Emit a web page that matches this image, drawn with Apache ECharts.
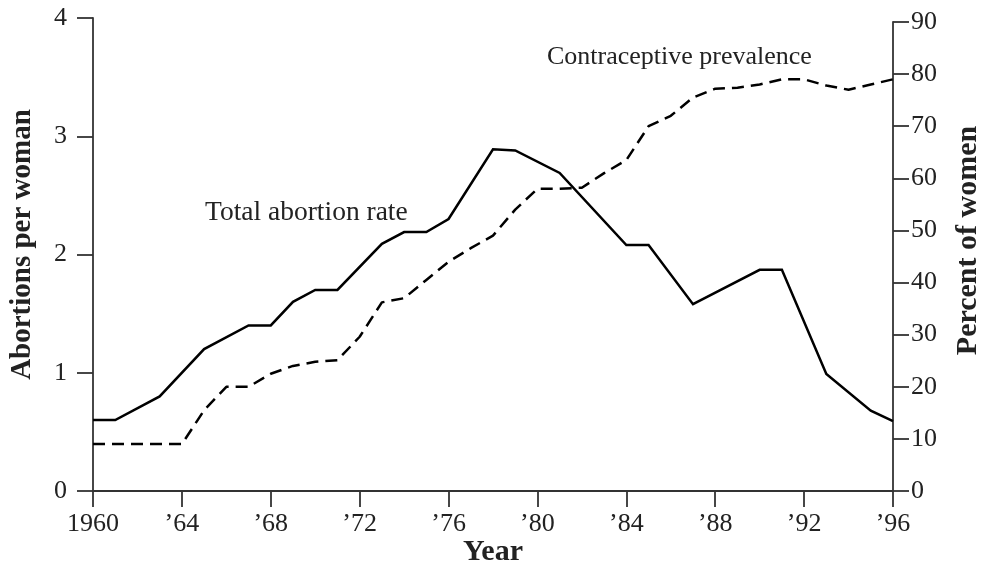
<!DOCTYPE html>
<html>
<head>
<meta charset="utf-8">
<script src="https://cdn.jsdelivr.net/npm/echarts@6/dist/echarts.min.js"></script>
<style>html,body{margin:0;padding:0;background:#fff}#c{width:988px;height:571px}</style>
</head>
<body>
<div id="c"></div>
<script>
const abortionYears = [1960,1961,1963,1965,1967,1968,1969,1970,1971,1973,1974,1975,1976,1978,1979,1981,1984,1985,1987,1990,1991,1993,1995,1996];
const abortionRate = [0.60,0.60,0.80,1.20,1.40,1.40,1.60,1.70,1.70,2.09,2.19,2.19,2.30,2.89,2.88,2.69,2.08,2.08,1.58,1.87,1.87,0.99,0.68,0.59];
const contraYears = [1960,1961,1962,1963,1964,1965,1966,1967,1968,1969,1970,1971,1972,1973,1974,1975,1976,1977,1978,1979,1980,1981,1982,1983,1984,1985,1986,1987,1988,1989,1990,1991,1992,1993,1994,1995,1996];
const contraPrevalence = [9,9,9,9,9,15.5,20,20,22.5,24,24.8,25.1,29.6,36.2,37,40.5,44,46.6,49,54,58,58,58.2,61,63.5,70,72,75.5,77.2,77.4,78,79,79,77.8,77,78,79];
const leftTitle = 'Abortions per woman';
const rightTitle = 'Percent of women';
const xTitle = 'Year';
const abortionLabel = 'Total abortion rate';
const contraLabel = 'Contraceptive prevalence';

const FONT = '"Liberation Serif", "DejaVu Serif", serif';
const INK = '#222';
const AX = '#333';
const chart = echarts.init(document.getElementById('c'), null, {renderer: 'canvas'});
const axisLine = {show: true, lineStyle: {color: AX, width: 1.8}};
const tick = {show: true, inside: false, length: 16, lineStyle: {color: AX, width: 1.8}};
chart.setOption({
  animation: false,
  backgroundColor: '#fff',
  grid: [
    {left: 93, right: 95, top: 18, bottom: 80, containLabel: false, outerBoundsMode: 'none'},
    {left: 93, right: 95, top: 22, bottom: 80, containLabel: false, outerBoundsMode: 'none'}
  ],
  xAxis: [
    {type: 'value', gridIndex: 0, min: 1960, max: 1996, interval: 4,
     axisLine: axisLine, axisTick: tick, splitLine: {show: false},
     axisLabel: {color: INK, fontFamily: FONT, fontSize: 26, margin: 20,
       formatter: v => v === 1960 ? '1960' : '\u2019' + String(v).slice(2)},
     name: xTitle, nameLocation: 'middle', nameGap: 46, nameMoveOverlap: false,
     nameTextStyle: {color: INK, fontFamily: FONT, fontSize: 30, fontWeight: 'bold'}},
    {type: 'value', gridIndex: 1, min: 1960, max: 1996, show: false}
  ],
  yAxis: [
    {type: 'value', gridIndex: 0, position: 'left', min: 0, max: 4, interval: 1,
     axisLine: axisLine, axisTick: tick, splitLine: {show: false},
     axisLabel: {color: INK, fontFamily: FONT, fontSize: 26, margin: 26},
     name: leftTitle, nameLocation: 'middle', nameGap: 56, nameRotate: 90,
     nameTextStyle: {color: INK, fontFamily: FONT, fontSize: 29, fontWeight: 'bold', padding: [0, 0, 0, 20]}},
    {type: 'value', gridIndex: 1, position: 'right', min: 0, max: 90, interval: 10,
     axisLine: axisLine, axisTick: tick, splitLine: {show: false},
     axisLabel: {color: INK, fontFamily: FONT, fontSize: 26, margin: 18},
     name: rightTitle, nameLocation: 'middle', nameGap: 60, nameRotate: 90,
     nameTextStyle: {color: INK, fontFamily: FONT, fontSize: 30, fontWeight: 'bold', padding: [0, 0, 0, 32]}}
  ],
  series: [
    {type: 'line', xAxisIndex: 0, yAxisIndex: 0, showSymbol: false, symbol: 'none',
     data: abortionYears.map((y, i) => [y, abortionRate[i]]),
     lineStyle: {color: '#000', width: 2.5, type: 'solid', join: 'miter'}},
    {type: 'line', xAxisIndex: 1, yAxisIndex: 1, showSymbol: false, symbol: 'none',
     data: contraYears.map((y, i) => [y, contraPrevalence[i]]),
     lineStyle: {color: '#000', width: 2.5, type: [12, 7]}}
  ],
  graphic: [
    {type: 'text', left: 205, top: 199, style: {text: abortionLabel, fill: INK, font: '27.5px ' + FONT}},
    {type: 'text', left: 547, top: 44, style: {text: contraLabel, fill: INK, font: '26px ' + FONT}}
  ]
});
</script>
</body>
</html>
